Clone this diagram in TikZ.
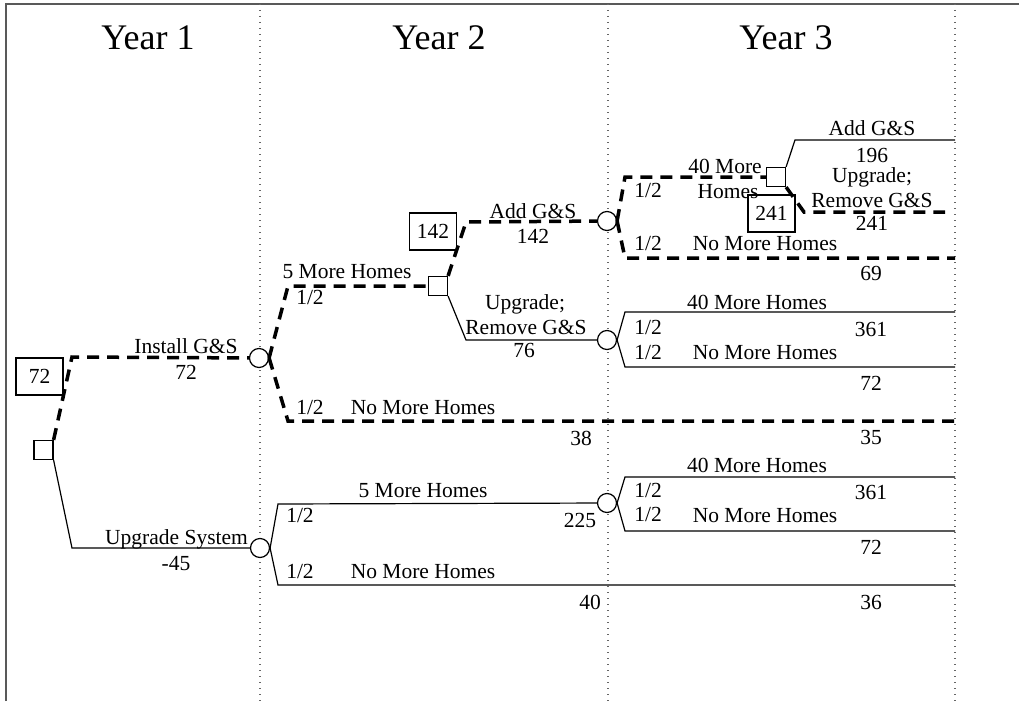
\documentclass[tikz,border=0pt]{standalone}
\usepackage{fontspec}
\setmainfont{Liberation Serif}
\usepackage{tikz}

\begin{document}
\begin{tikzpicture}[x=1pt,y=-1pt,
  chance/.style={circle,draw,fill=white,line width=1.2pt,minimum size=19pt,inner sep=0pt},
  choice/.style={rectangle,draw,fill=white,line width=1.2pt,minimum size=19pt,inner sep=0pt},
  valbox/.style={rectangle,draw,line width=1.2pt,minimum width=47pt,minimum height=37pt,inner sep=0pt,font=\fontsize{21.5}{24}\selectfont},
  lbl/.style={inner sep=0pt,text height=14.6pt,text depth=0pt,font=\fontsize{21.5}{24}\selectfont},
  yr/.style={inner sep=0pt,text height=24.5pt,text depth=0pt,font=\fontsize{36}{40}\selectfont},
  best/.style={line width=3.5pt,dash pattern=on 12pt off 8pt},
  alt/.style={line width=1.2pt},
  guide/.style={black!60,line width=1.2pt,dash pattern=on 1.2pt off 4.8pt}]
\useasboundingbox (0,0) rectangle (1019,701);
\draw[line width=2pt,black!65] (6,701) -- (6,4) -- (1019,4);
\foreach \gx in {260,608,955}
  \draw[guide] (\gx,4) -- (\gx,701);
\node at (148,37)[yr](year1){Year 1};
\node at (439,37)[yr](year2){Year 2};
\node at (786,37)[yr](year3){Year 3};
% decision and chance nodes
\node at (43.5,450)[choice](d0){};
\node at (39.5,376.5)[valbox](v0){72};
\node at (259,358)[chance](c1){};
\node at (260,548)[chance](c2){};
\node at (438,286)[choice](d1){};
\node at (433,231.5)[valbox](v1){142};
\node at (607,221)[chance](c3){};
\node at (607,340)[chance](c4){};
\node at (607,503)[chance](c5){};
\node at (776,177)[choice](d2){};
% bends and branch ends
\coordinate (a1) at (72,357);
\coordinate (a2) at (72,548);
\coordinate (b1) at (288,286);
\coordinate (b2) at (288,421);
\coordinate (b3) at (278,504);
\coordinate (b4) at (278,585);
\coordinate (f1) at (466,222);
\coordinate (f2) at (466,340);
\coordinate (g1) at (625,177);
\coordinate (g2) at (625,258);
\coordinate (g3) at (625,312);
\coordinate (g4) at (625,367);
\coordinate (g5) at (625,477);
\coordinate (g6) at (625,531);
\coordinate (h1) at (795,140);
\coordinate (h2) at (804,212);
\coordinate (e1) at (955,421);
\coordinate (e2) at (955,585);
\coordinate (e3) at (955,258);
\coordinate (e4) at (955,312);
\coordinate (e5) at (955,367);
\coordinate (e6) at (955,477);
\coordinate (e7) at (955,531);
\coordinate (e8) at (955,140);
\coordinate (e9) at (945,212);
\draw (d0.north east)[best] -- (a1) -- (c1);
\draw (d0.south east)[alt] -- (a2) -- (c2);
\draw (c1.east)[best] -- (b1) -- (d1);
\draw (c1.east)[best] -- (b2) -- (e1);
\draw (c2.east)[alt] -- (b3) -- (c5);
\draw (c2.east)[alt] -- (b4) -- (e2);
\draw (d1.north east)[best] -- (f1) -- (c3);
\draw (d1.south east)[alt] -- (f2) -- (c4);
\draw (c3.east)[best] -- (g1) -- (d2);
\draw (c3.east)[best] -- (g2) -- (e3);
\draw (c4.east)[alt] -- (g3) -- (e4);
\draw (c4.east)[alt] -- (g4) -- (e5);
\draw (c5.east)[alt] -- (g5) -- (e6);
\draw (c5.east)[alt] -- (g6) -- (e7);
\draw (d2.north east)[alt] -- (h1) -- (e8);
\draw (d2.south east)[best] -- (h2) -- (e9);
\node at (771.5,213.5)[valbox](v2){241};
% year 1 labels
\node at (186,346)[lbl](install){Install G\&S};
\node at (186,372)[lbl](installv){72};
\node at (176.5,537)[lbl](upgsys){Upgrade System};
\node at (176,563)[lbl](upgsysv){-45};
% year 2 labels
\node at (347,271)[lbl](more5a){5 More Homes};
\node at (310,297)[lbl](p1){1/2};
\node at (310,407)[lbl](p2){1/2};
\node at (423,407)[lbl](nomore1){No More Homes};
\node at (581,438)[lbl](v38){38};
\node at (533,211)[lbl](addgs1){Add G\&S};
\node at (533,236)[lbl](addgs1v){142};
\node at (525,302)[lbl](upg1a){Upgrade;};
\node at (526,327)[lbl](upg1b){Remove G\&S};
\node at (524,350)[lbl](upg1v){76};
\node at (423,490)[lbl](more5b){5 More Homes};
\node at (300,515)[lbl](p7){1/2};
\node at (580,520)[lbl](v225){225};
\node at (300,571)[lbl](p8){1/2};
\node at (423,571)[lbl](nomore4){No More Homes};
\node at (590,602)[lbl](v40){40};
% year 3 labels
\node at (648,190)[lbl](p3){1/2};
\node at (725,166)[lbl](more40a){40 More};
\node at (728,191)[lbl](more40b){Homes};
\node at (648,243)[lbl](p4){1/2};
\node at (765,243)[lbl](nomore2){No More Homes};
\node at (871,273)[lbl](v69){69};
\node at (872,128)[lbl](addgs2){Add G\&S};
\node at (872,155)[lbl](v196){196};
\node at (872,175)[lbl](upg2a){Upgrade;};
\node at (872,200)[lbl](upg2b){Remove G\&S};
\node at (872,223)[lbl](v241){241};
\node at (757,302)[lbl](more40c){40 More Homes};
\node at (648,327)[lbl](p5){1/2};
\node at (871,329)[lbl](v361a){361};
\node at (648,352)[lbl](p6){1/2};
\node at (765,352)[lbl](nomore3){No More Homes};
\node at (871,383)[lbl](v72a){72};
\node at (871,437)[lbl](v35){35};
\node at (757,465)[lbl](more40d){40 More Homes};
\node at (648,490)[lbl](p9){1/2};
\node at (871,492)[lbl](v361b){361};
\node at (648,514)[lbl](p10){1/2};
\node at (765,515)[lbl](nomore5){No More Homes};
\node at (871,547)[lbl](v72b){72};
\node at (871,602)[lbl](v36){36};
\end{tikzpicture}
\end{document}
